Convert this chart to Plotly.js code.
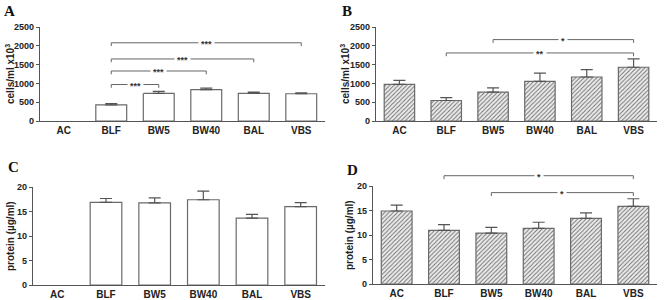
<!DOCTYPE html>
<html><head><meta charset="utf-8">
<script src="https://cdn.plot.ly/plotly-3.0.1.min.js"></script>
<style>html,body{margin:0;padding:0;background:#fff}</style>
</head><body><div id="chart" style="width:669px;height:300px"></div>
<script>
const categories = ['AC','BLF','BW5','BW40','BAL','VBS'];
// Panel A: cells/ml x10^3 (open bars)
const cellsA = [null, 430, 735, 835, 735, 725];
const cellsAErr = [null, 35, 55, 40, 35, 25];
// Panel B: cells/ml x10^3 (hatched bars)
const cellsB = [975, 545, 770, 1055, 1170, 1430];
const cellsBErr = [105, 75, 110, 220, 195, 220];
// Panel C: protein (open bars)
const proteinC = [null, 16.85, 16.75, 17.4, 13.65, 16.0];
const proteinCErr = [null, 0.8, 1.05, 1.75, 0.75, 0.8];
// Panel D: protein (hatched bars)
const proteinD = [14.9, 10.95, 10.4, 11.35, 13.4, 15.85];
const proteinDErr = [1.2, 1.15, 1.15, 1.25, 1.1, 1.55];
// Significance brackets: [from, to, level, label]
const sigA = [['BLF','BW5',970,'***'],['BLF','BW40',1330,'***'],['BLF','BAL',1650,'***'],['BLF','VBS',2080,'***']];
const sigB = [['BLF','VBS',1810,'**'],['BW5','VBS',2165,'*']];
const sigD = [['BLF','VBS',22.1,'*'],['BW5','VBS',18.65,'*']];
const yTitleCells = 'cells/ml x10<sup>3</sup>';
const yTitleProtein = 'protein (µg/ml)';
const panelLetters = ['A','B','C','D'];

const W = 669, H = 300;
const FONT = 'Liberation Sans, Arial, sans-serif';
const AX = '#555';

const panels = [
  {x0:40, x1:325, yTop:27, yBot:121, range:[0,2500], dtick:500, vals:cellsA, err:cellsAErr, hatch:false, sig:sigA, ytitle:yTitleCells, letter:[2,1], tx:10},
  {x0:376, x1:657, yTop:27, yBot:121, range:[0,2500], dtick:500, vals:cellsB, err:cellsBErr, hatch:true, sig:sigB, ytitle:yTitleCells, letter:[340,1], tx:345},
  {x0:33, x1:325, yTop:187, yBot:285, range:[0,20], dtick:5, vals:proteinC, err:proteinCErr, hatch:false, sig:[], ytitle:yTitleProtein, letter:[6,157], tx:10},
  {x0:373, x1:657, yTop:186, yBot:284, range:[0,20], dtick:5, vals:proteinD, err:proteinDErr, hatch:true, sig:sigD, ytitle:yTitleProtein, letter:[345,160], tx:349}
];

const data = [], shapes = [], annotations = [];
const layout = {width:W, height:H, margin:{l:0,r:0,t:0,b:0}, showlegend:false,
  paper_bgcolor:'#fff', plot_bgcolor:'#fff', bargap:0.35, font:{family:FONT, color:'#222'}};

panels.forEach((p,i)=>{
  const n = i+1, xs = n===1?'':n, xa='x'+xs, ya='y'+xs;
  data.push({type:'bar', x:categories, y:p.vals, xaxis:xa, yaxis:ya,
    marker:{color: p.hatch ? '#ececec' : '#fff',
      line:{color:'#6a6a6a', width:1.2},
      pattern: p.hatch ? {shape:'/', fgcolor:'#6e6e6e', bgcolor:'#ececec', size:3, solidity:0.3} : undefined},
    error_y:{type:'data', symmetric:false, array:p.err, arrayminus:p.err.map(()=>0), color:'#555', thickness:1.2, width:6},
    hoverinfo:'none'});
  layout['xaxis'+xs] = {domain:[p.x0/W, p.x1/W], anchor:ya, range:[-0.5,5.5], type:'category',
    showline:true, linecolor:AX, linewidth:1.2, ticks:'', showgrid:false, zeroline:false,
    tickfont:{family:FONT, size:10, color:'#222', weight:'bold'}, fixedrange:true};
  layout['yaxis'+xs] = {domain:[1-p.yBot/H, 1-p.yTop/H], anchor:xa, range:p.range, dtick:p.dtick,
    showline:true, linecolor:AX, linewidth:1.2, ticks:'outside', ticklen:3, tickcolor:AX, tickwidth:1,
    showgrid:false, zeroline:false, tickfont:{family:FONT, size:9, color:'#222', weight:'bold'}, fixedrange:true};
  const toDom = v => (v - p.range[0])/(p.range[1]-p.range[0]);
  const tick = 0.035;
  p.sig.forEach(s=>{
    const a = categories.indexOf(s[0]), b = categories.indexOf(s[1]);
    const yv = toDom(s[2]);
    shapes.push({type:'path', xref:xa, yref:ya+' domain',
      path:`M ${a},${yv-tick} L ${a},${yv} L ${b},${yv} L ${b},${yv-tick}`,
      line:{color:'#666', width:1}});
    annotations.push({xref:xa, yref:ya+' domain', x:(a+b)/2, y:yv, xanchor:'center', yanchor:'middle',
      text:s[3], showarrow:false,
      font:{family:FONT, size:9, color:'#333', weight:'bold'}, bgcolor:'#fff', borderpad:2, yshift:-1});
  });
  annotations.push({xref:'paper', yref:'paper', x:p.tx/W, y:1-((p.yTop+p.yBot)/2)/H, xanchor:'center', yanchor:'middle',
    text:p.ytitle, textangle:-90, showarrow:false, font:{family:FONT, size:10, color:'#222', weight:'bold'}});
  annotations.push({xref:'paper', yref:'paper', x:p.letter[0]/W, y:1-p.letter[1]/H, xanchor:'left', yanchor:'top',
    text:'<b>'+panelLetters[i]+'</b>', showarrow:false, font:{family:'Liberation Serif, Times New Roman, serif', size:15, color:'#111'}});
});
layout.shapes = shapes; layout.annotations = annotations;
Plotly.newPlot('chart', data, layout, {displayModeBar:false, staticPlot:true});
</script></body></html>
